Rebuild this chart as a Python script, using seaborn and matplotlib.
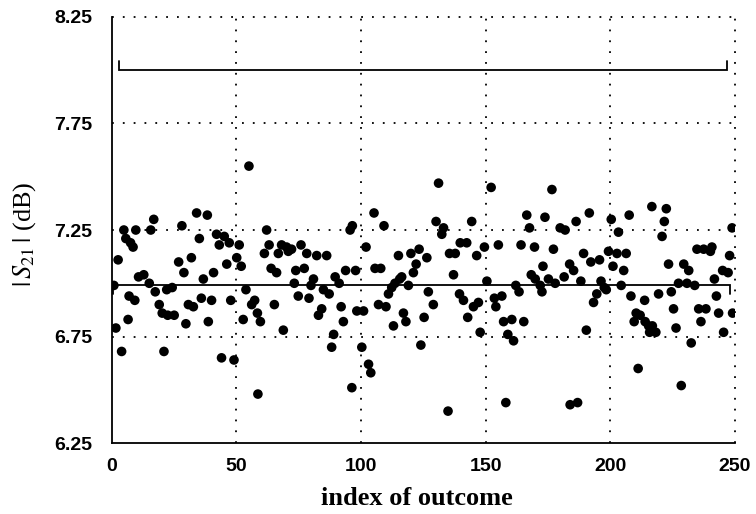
import matplotlib
matplotlib.use("Agg")
import matplotlib.pyplot as plt
import seaborn as sns
import pandas as pd

# Measured |S21| for each outcome of the sweep
outcome_index = [
    0.8, 1.6, 2.5, 3.9, 4.8, 5.6, 6.5, 6.9, 7.5, 8.5, 9.2, 9.6, 10.7, 12.8, 15.0, 15.6, 16.8, 17.4,
    19.0, 20.2, 20.9, 22.0, 22.4, 24.2, 25.0, 26.8, 28.1, 28.9, 29.7, 30.7, 31.9, 32.7, 34.0, 35.1,
    35.9, 36.7, 38.3, 38.7, 40.0, 40.8, 42.0, 43.1, 44.0, 45.1, 46.1, 47.1, 47.7, 49.0, 50.1, 51.1,
    51.9, 52.7, 53.8, 55.0, 56.1, 57.3, 58.4, 58.6, 59.6,
    61.2, 62.1, 63.1, 63.9, 65.2, 66.1, 66.8, 68.1, 68.8, 70.1, 70.8, 72.1, 73.2, 73.8, 74.8, 75.9,
    77.2, 78.2, 79.1, 79.9, 80.9, 82.2, 82.9, 84.2, 84.9, 86.2, 87.2, 88.2, 89.0, 89.6, 91.2, 92.0,
    92.9, 93.8, 95.6, 96.3, 96.5, 97.8,
    98.3, 100.3, 101.0, 102.0, 103.0, 103.9, 105.2, 105.6, 107.0, 107.9, 109.2, 110.0, 111.0, 112.3,
    113.0, 113.6, 115.0, 115.5, 116.3, 117.0, 118.0, 119.0, 120.0, 121.0, 122.1, 123.3, 124.0, 125.3,
    126.4, 127.0, 129.0, 130.1, 131.1, 132.4, 133.1, 134.9, 135.5,
    137.1, 137.8, 139.5, 139.8, 141.1, 142.4, 142.8, 144.4, 145.1, 146.4, 147.1, 147.8, 149.5, 150.5,
    152.2, 153.5, 154.1, 155.1, 156.5, 157.2, 158.1, 158.9, 160.5, 161.2, 162.1, 163.4, 164.2, 165.3,
    166.5, 167.6, 168.3, 169.6, 169.9, 171.9, 172.6, 173.0, 173.8,
    175.2, 176.6, 177.2, 177.9, 179.9, 181.5, 181.9, 183.7, 183.9, 185.3, 186.3, 186.9, 188.2, 189.3,
    190.4, 191.6, 192.2, 193.3, 194.6, 195.7, 196.3, 197.6, 198.4, 199.3, 200.4, 201.1, 202.7, 203.3,
    204.4, 205.4, 206.4, 207.6, 208.3, 209.6, 210.4, 211.2,
    212.0, 213.8, 214.0, 215.4, 215.8, 216.7, 216.9, 218.3, 219.4, 220.8, 221.7, 222.5, 223.4, 224.5,
    225.4, 226.4, 227.4, 228.5, 229.5, 230.8, 231.5, 232.5, 233.9, 234.8, 235.5, 236.4, 237.5, 238.4,
    240.2, 240.8, 241.8, 242.6, 243.5, 245.1, 245.5, 247.3, 247.9, 248.9, 249.1,
]
s21_db = [
    6.99, 6.79, 7.11, 6.68, 7.25, 7.21, 6.83, 6.94, 7.19, 7.17, 6.92, 7.25, 7.03, 7.04, 7.00, 7.25, 7.30, 6.96,
    6.90, 6.86, 6.68, 6.97, 6.85, 6.98, 6.85, 7.10, 7.27, 7.05, 6.81, 6.90, 7.12, 6.89, 7.33, 7.21,
    6.93, 7.02, 7.32, 6.82, 6.92, 7.05, 7.23, 7.18, 6.65, 7.22, 7.09, 7.19, 6.92, 6.64, 7.12, 7.18,
    7.08, 6.83, 6.97, 7.55, 6.90, 6.92, 6.86, 6.48, 6.82,
    7.14, 7.25, 7.18, 7.07, 6.90, 7.05, 7.14, 7.18, 6.78, 7.17, 7.15, 7.16, 7.00, 7.06, 6.94, 7.18,
    7.07, 7.14, 6.93, 6.99, 7.02, 7.13, 6.85, 6.88, 6.97, 7.13, 6.95, 6.70, 6.76, 7.03, 7.00, 6.89,
    6.82, 7.06, 7.25, 6.51, 7.27, 7.06,
    6.87, 6.70, 6.87, 7.17, 6.62, 6.58, 7.33, 7.07, 6.90, 7.07, 7.27, 6.89, 6.95, 6.98,
    6.80, 7.00, 7.13, 7.02, 7.03, 6.86, 6.82, 6.99, 7.14, 7.05, 7.09, 7.16, 6.71, 6.84,
    7.12, 6.96, 6.90, 7.29, 7.47, 7.23, 7.26, 6.40, 7.14,
    7.04, 7.14, 6.95, 7.19, 6.92, 7.19, 6.84, 7.29, 6.89, 7.13, 6.91, 6.77, 7.17, 7.01,
    7.45, 6.93, 6.89, 7.18, 6.94, 6.82, 6.44, 6.76, 6.83, 6.73, 6.99, 6.96, 7.18, 6.82,
    7.32, 7.26, 7.04, 7.17, 7.02, 6.99, 6.96, 7.08, 7.31,
    7.02, 7.44, 7.16, 7.00, 7.26, 7.03, 7.25, 7.09, 6.43, 7.06, 7.29, 6.44, 7.01, 7.14,
    6.78, 7.33, 7.10, 6.91, 6.95, 7.11, 7.01, 6.98, 6.97, 7.15, 7.30, 7.08, 7.14, 7.24,
    6.99, 7.06, 7.14, 7.32, 6.94, 6.82, 6.86, 6.60,
    6.85, 6.92, 6.82, 6.80, 6.77, 7.36, 6.80, 6.77, 6.95, 7.22, 7.29, 7.35, 7.09, 6.96,
    6.88, 6.79, 7.00, 6.52, 7.09, 7.00, 7.06, 6.72, 6.99, 7.16, 6.88, 6.82, 7.16, 6.88,
    7.15, 7.17, 7.02, 6.94, 6.86, 7.06, 6.77, 7.05, 7.13, 7.26, 6.86,
]

mean_level = 6.99          # average |S21| over all outcomes
mean_span = [0.5, 248.0]
spec_level = 8.00          # upper specification bracket
spec_span = [2.7, 247.0]

x_ticks = [0, 50, 100, 150, 200, 250]
x_tick_labels = ["0", "50", "100", "150", "200", "250"]
y_ticks = [6.25, 6.75, 7.25, 7.75, 8.25]
y_tick_labels = ["6.25", "6.75", "7.25", "7.75", "8.25"]

df = pd.DataFrame({"index": outcome_index, "s21": s21_db})

sns.set_theme(style="white")
plt.rcParams["mathtext.fontset"] = "stix"

fig = plt.figure(figsize=(7.56, 5.14), dpi=100)
ax = fig.add_axes([0.148, 0.138, 0.824, 0.829])

sns.scatterplot(data=df, x="index", y="s21", ax=ax, color="black",
                s=48, edgecolor="none", linewidth=0, zorder=3, legend=False)

# mean line with a short drop at each end
tick_h = 0.042
ax.plot([mean_span[0], mean_span[0], mean_span[1], mean_span[1]],
        [mean_level - tick_h, mean_level, mean_level, mean_level - tick_h],
        color="black", lw=1.3, zorder=2, solid_joinstyle="miter")
# specification bracket with upturned ends
ax.plot([spec_span[0], spec_span[0], spec_span[1], spec_span[1]],
        [spec_level + tick_h, spec_level, spec_level, spec_level + tick_h],
        color="black", lw=1.3, zorder=2, solid_joinstyle="miter")

ax.set_xlim(0, 250)
ax.set_ylim(6.25, 8.25)
ax.set_xticks(x_ticks)
ax.set_xticklabels(x_tick_labels)
ax.set_yticks(y_ticks)
ax.set_yticklabels(y_tick_labels)

for lab in ax.get_xticklabels() + ax.get_yticklabels():
    lab.set_fontfamily("Liberation Sans")
    lab.set_fontweight("bold")
    lab.set_fontsize(14)
    lab.set_color("black")
ax.tick_params(axis="both", length=0)
ax.tick_params(axis="y", pad=14)
ax.tick_params(axis="x", pad=11)

# dotted grid, skipping the lines that coincide with the solid spines
for yv in y_ticks[1:]:
    ax.axhline(yv, color="black", lw=1.3, linestyle=(0, (1, 5)), zorder=1, clip_on=False)
for xv in x_ticks[1:]:
    ax.axvline(xv, color="black", lw=1.3, linestyle=(0, (1, 5)), zorder=1, clip_on=False)

for side in ("top", "right"):
    ax.spines[side].set_visible(False)
for side in ("left", "bottom"):
    ax.spines[side].set_color("black")
    ax.spines[side].set_linewidth(1.3)

ax.set_xlabel("index of outcome", fontfamily="Liberation Serif", fontweight="bold",
              fontsize=19, color="black")
ax.xaxis.set_label_coords(0.49, -0.103)
ax.set_ylabel(r"$|\,S_{21}\,|$ (dB)", fontfamily="Liberation Serif",
              fontsize=19, color="black")
ax.yaxis.set_label_coords(-0.118, 0.49)

fig.savefig("out.png", dpi=100)
